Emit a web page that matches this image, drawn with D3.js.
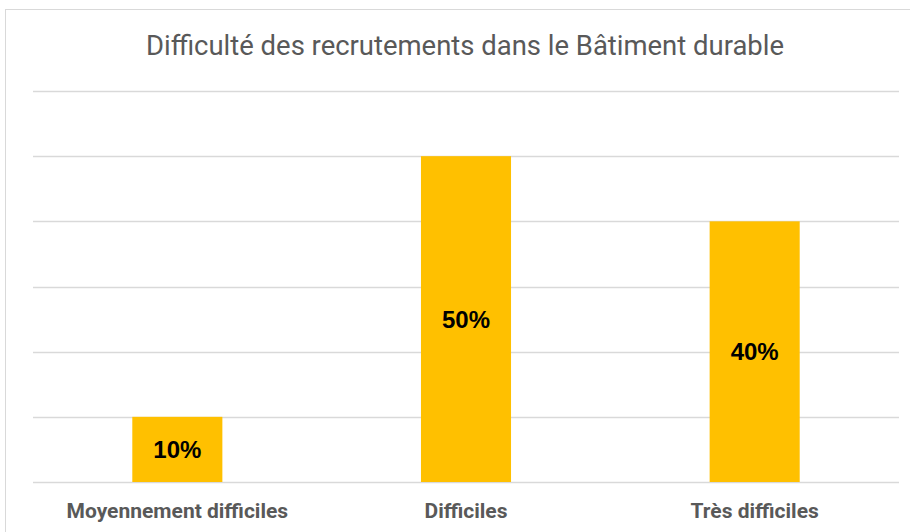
<!DOCTYPE html>
<html>
<head>
<meta charset="utf-8">
<script src="https://cdn.jsdelivr.net/npm/d3@7"></script>
<style>
  html, body { margin: 0; padding: 0; background: #fff; }
  svg { display: block; }
</style>
</head>
<body>
<div id="chart"></div>
<script>
const title = 'Difficulté des recrutements dans le Bâtiment durable';
const categories = ['Moyennement difficiles', 'Difficiles', 'Très difficiles'];
const values = [0.10, 0.50, 0.40];
const yTicks = [0, 0.1, 0.2, 0.3, 0.4, 0.5, 0.6];

const width = 910;
const height = 532;
const margin = {top: 91, right: 11, bottom: 50, left: 33};

const svg = d3.select('#chart').append('svg')
    .attr('width', width)
    .attr('height', height);

// chart frame
svg.append('rect')
    .attr('x', 5.5)
    .attr('y', 9.5)
    .attr('width', width + 20)
    .attr('height', height + 20)
    .attr('fill', '#fff')
    .attr('stroke', '#d9d9d9')
    .attr('stroke-width', 1);

const x = d3.scaleBand()
    .domain(categories)
    .range([margin.left, width - margin.right])
    .paddingInner(0.688)
    .paddingOuter(0.344);

const y = d3.scaleLinear()
    .domain([0, 0.6])
    .range([height - margin.bottom, margin.top]);

// gridlines
svg.append('g')
    .attr('class', 'grid')
  .selectAll('line')
    .data(yTicks)
  .enter().append('line')
    .attr('x1', margin.left)
    .attr('x2', width - margin.right)
    .attr('y1', d => Math.round(y(d)) + 0.5)
    .attr('y2', d => Math.round(y(d)) + 0.5)
    .attr('stroke', '#d9d9d9')
    .attr('stroke-width', 1.3);

// bars
svg.append('g')
  .selectAll('rect')
    .data(values)
  .enter().append('rect')
    .attr('x', (d, i) => x(categories[i]))
    .attr('y', d => y(d))
    .attr('width', x.bandwidth())
    .attr('height', d => y(0) - y(d))
    .attr('fill', '#ffc000');

// value labels
svg.append('g')
  .selectAll('text')
    .data(values)
  .enter().append('text')
    .attr('x', (d, i) => x(categories[i]) + x.bandwidth() / 2)
    .attr('y', d => (y(d) + y(0)) / 2)
    .attr('dy', '0.36em')
    .attr('text-anchor', 'middle')
    .attr('font-family', '"Liberation Sans", Arial, sans-serif')
    .attr('font-weight', 'bold')
    .attr('font-size', 24)
    .attr('fill', '#000')
    .text(d => d3.format('.0%')(d));

// x axis labels
const xAxis = d3.axisBottom(x).tickSize(0).tickPadding(21);
const gx = svg.append('g')
    .attr('transform', `translate(0,${y(0)})`)
    .call(xAxis);
gx.select('.domain').remove();
gx.selectAll('text')
    .attr('font-family', 'Roboto, sans-serif')
    .attr('font-weight', 'bold')
    .attr('font-size', 21)
    .attr('fill', '#595959');

// title
svg.append('text')
    .attr('x', 465)
    .attr('y', 55)
    .attr('text-anchor', 'middle')
    .attr('font-family', 'Roboto, sans-serif')
    .attr('font-size', 28)
    .attr('fill', '#595959')
    .attr('textLength', 638)
    .attr('lengthAdjust', 'spacingAndGlyphs')
    .text(title);
</script>
</body>
</html>
